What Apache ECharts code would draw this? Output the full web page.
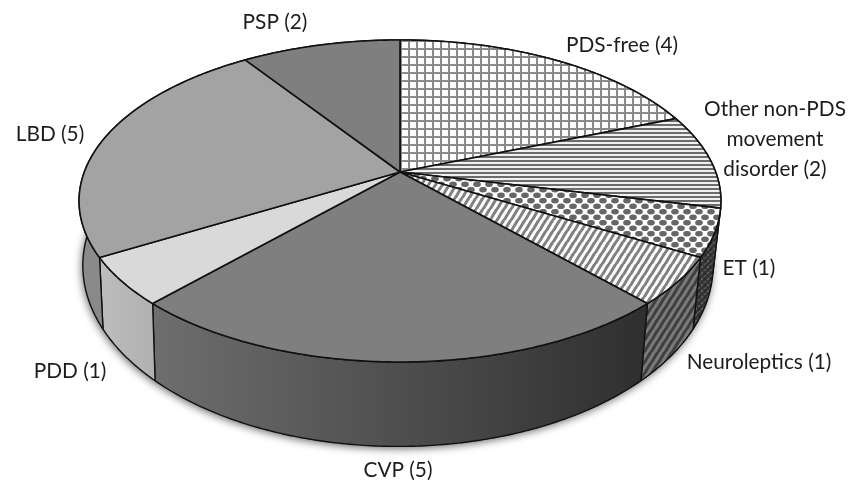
<!DOCTYPE html>
<html><head><meta charset="utf-8">
<style>html,body{margin:0;padding:0;background:#fff}#c{width:849px;height:482px}</style>
<script src="https://cdn.jsdelivr.net/npm/echarts@6/dist/echarts.min.js"></script>
</head><body><div id="c"></div>
<script>
const categories = ['PDS-free','Other non-PDS\nmovement\ndisorder','ET','Neuroleptics','CVP','PDD','LBD','PSP'];
const counts = [4, 2, 1, 1, 5, 1, 5, 2];

// ---- layout / style, separate from the data ----
const TOP = {x:400, y:172, a:315.7, b:155.8, k:0.18};
const BOT = {x:398, y:233, a:310, b:175, k:0.18};
const labelSpots = [[622,45],[775,139],[749,268],[759,362],[398,470],[70,371],[50,134],[275,22]];

function tile(w,h,draw){const c=document.createElement('canvas');c.width=w;c.height=h;draw(c.getContext('2d'),w,h);return {image:c,repeat:'repeat'};}
function gridTile(g,w,h){g.fillStyle='#fdfdfd';g.fillRect(0,0,w,h);g.fillStyle='#8a8a8a';g.fillRect(0,0,2,h);g.fillRect(0,0,w,2);}
function stripeH(g,w,h){g.fillStyle='#f0f0f0';g.fillRect(0,0,w,h);g.fillStyle='#6c6c6c';g.fillRect(0,0,w,2);}
function checker(g,w,h){g.fillStyle='#fff';g.fillRect(0,0,w,h);g.fillStyle='#666';
  [[3,2.75],[9,8.25],[15,2.75],[-3,8.25]].forEach(function(p){g.beginPath();g.ellipse(p[0],p[1],3.8,2.8,0,0,Math.PI*2);g.fill();});}
function diag(bg,fg){return function(g,w,h){g.fillStyle=bg;g.fillRect(0,0,w,h);g.strokeStyle=fg;g.lineWidth=3;
  for(let i=-2;i<=2;i++){g.beginPath();g.moveTo(i*w-1,h+2);g.lineTo(i*w+w+1,-2);g.stroke();}};}
function cross(g,w,h){diag('#666','#333')(g,w,h);g.strokeStyle='rgba(40,40,40,.8)';g.lineWidth=1.5;g.beginPath();g.moveTo(0,0);g.lineTo(w,h);g.stroke();}

const topFills = [
  tile(8,8,gridTile), tile(4,4,stripeH), tile(12,11,checker), tile(7,11,diag('#fdfdfd','#808080')),
  '#7f7f7f', '#d9d9d9', '#a3a3a3', '#7f7f7f'
];
function lg(x1,x2,c1,c2){return {type:'linear',x:x1,y:0,x2:x2,y2:0,global:true,colorStops:[{offset:0,color:c1},{offset:1,color:c2}]};}
const sideFills = [
  '#fff', tile(4,4,stripeH), tile(6,6,cross), tile(7,11,diag('#7a7a7a','#3f3f3f')),
  lg(153,645,'#6e6e6e','#2f2f2f'), lg(100,155,'#bdbdbd','#b0b0b0'), '#8a8a8a', '#555'
];

const total = counts.reduce(function(s,v){return s+v;},0);
function angle(v){return v/total*Math.PI*2;}
function proj(P,t){const a=Math.sin(t),b=Math.cos(t),w=1+P.k*b;return [P.x+P.a*a/w,P.y-P.b*b/w];}
function arc(P,t0,t1){const n=Math.max(2,Math.ceil(Math.abs(t1-t0)/0.01)),o=[];
  for(let i=0;i<=n;i++)o.push(proj(P,t0+(t1-t0)*i/n));return o;}
function range(i){let s=0;for(let j=0;j<i;j++)s+=counts[j];return [angle(s),angle(s+counts[i])];}

const dataIdx = counts.map(function(v,i){return [i,v];});

const option = {
  animation:false,
  backgroundColor:'#fff',
  series:[
    {type:'custom',coordinateSystem:'none',silent:true,z:1,data:[0],
     renderItem:function(){return {type:'polygon',shape:{points:arc(BOT,0,Math.PI*2)},
       style:{fill:'#444',shadowBlur:8,shadowColor:'rgba(0,0,0,.6)',shadowOffsetY:2,shadowOffsetX:-1}};}},
    {type:'custom',coordinateSystem:'none',silent:true,z:2,data:dataIdx,
     renderItem:function(p,api){const i=api.value(0),r=range(i);
       const pts=arc(TOP,r[0],r[1]).concat(arc(BOT,r[1],r[0]));
       return {type:'polygon',shape:{points:pts},style:{fill:sideFills[i],stroke:'#111',lineWidth:1.4,lineJoin:'round'}};}},
    {type:'custom',coordinateSystem:'none',silent:true,z:3,data:dataIdx,
     renderItem:function(p,api){const i=api.value(0),r=range(i);
       const pts=[[TOP.x,TOP.y]].concat(arc(TOP,r[0],r[1]));
       return {type:'polygon',shape:{points:pts},style:{fill:topFills[i],stroke:'#111',lineWidth:1.6,lineJoin:'round'}};}}
  ],
  graphic:categories.map(function(c,i){return {type:'text',x:labelSpots[i][0],y:labelSpots[i][1],z:10,silent:true,
    style:{text:c+' ('+counts[i]+')',fill:'#1c1c1c',font:'20.8px Lato',lineHeight:30,align:'center',verticalAlign:'middle'}};})
};
const chart = echarts.init(document.getElementById('c'),null,{renderer:'canvas'});
chart.setOption(option);
</script></body></html>
